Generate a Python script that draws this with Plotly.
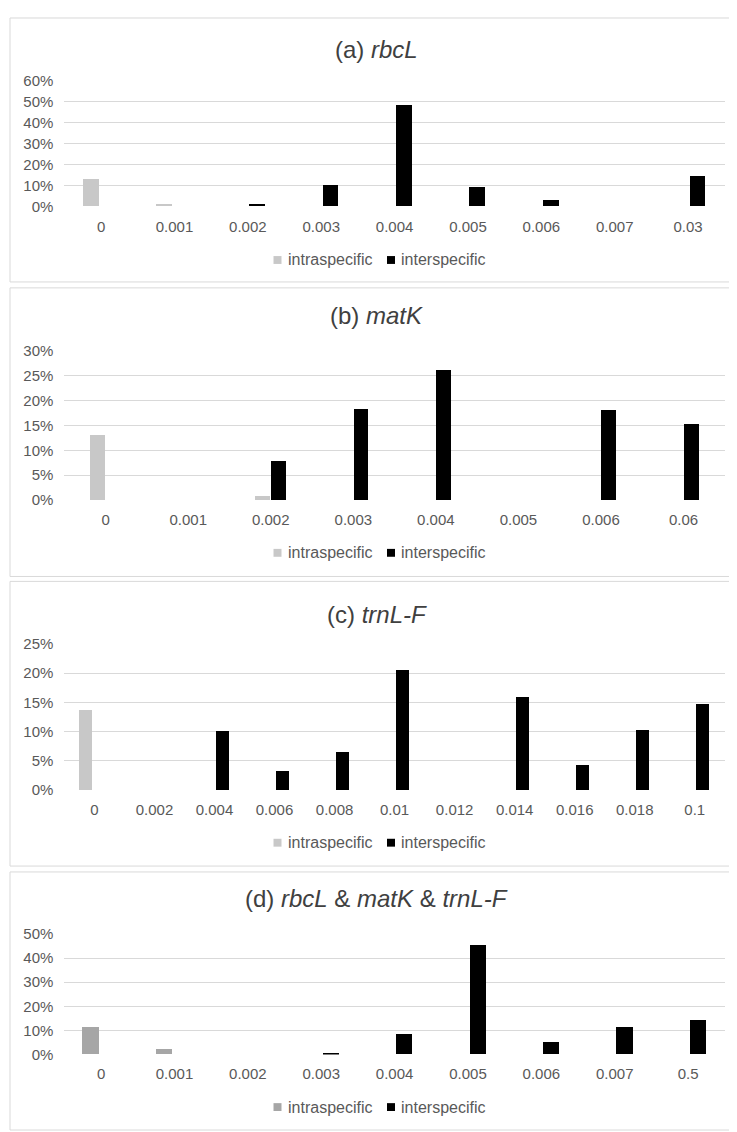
import plotly.graph_objects as go

W, H = 737, 1132

# ---------------- data ----------------
a_cats = ["0", "0.001", "0.002", "0.003", "0.004", "0.005", "0.006", "0.007", "0.03"]
a_intra = [0.128, 0.012, 0, 0, 0, 0, 0, 0, 0]
a_inter = [0, 0, 0.014, 0.103, 0.480, 0.093, 0.030, 0, 0.146]

b_cats = ["0", "0.001", "0.002", "0.003", "0.004", "0.005", "0.006", "0.06"]
b_intra = [0.131, 0, 0.0086, 0, 0, 0, 0, 0]
b_inter = [0, 0, 0.078, 0.184, 0.261, 0, 0.181, 0.154]

c_cats = ["0", "0.002", "0.004", "0.006", "0.008", "0.01", "0.012", "0.014", "0.016", "0.018", "0.1"]
c_intra = [0.138, 0, 0, 0, 0, 0, 0, 0, 0, 0, 0]
c_inter = [0, 0, 0.101, 0.033, 0.065, 0.206, 0, 0.159, 0.044, 0.104, 0.147]

d_cats = ["0", "0.001", "0.002", "0.003", "0.004", "0.005", "0.006", "0.007", "0.5"]
d_intra = [0.114, 0.023, 0, 0, 0, 0, 0, 0, 0]
d_inter = [0, 0, 0, 0.007, 0.083, 0.455, 0.053, 0.114, 0.144]

titles = ["(a) <i>rbcL</i>", "(b) <i>matK</i>", "(c) <i>trnL-F</i>",
          "(d) <i>rbcL</i> &amp; <i>matK</i> &amp; <i>trnL-F</i>"]
series_names = ["intraspecific", "interspecific"]

# ---------------- layout (pixels) ----------------
FONT = "Liberation Sans, Arial, sans-serif"
TXT = "#595959"
GRID = "#d9d9d9"
INTER_COLOR = "#000000"

panels = [
    dict(cats=a_cats, intra=a_intra, inter=a_inter, ymax=0.6, dtick=0.1,
         top=64.3, bot=192.7, title_y=33, leg_y=246.7, box=(1, 269),
         w=0.215, hg=0.025, intra_color="#c8c8c8"),
    dict(cats=b_cats, intra=b_intra, inter=b_inter, ymax=0.3, dtick=0.05,
         top=339, bot=490.3, title_y=303, leg_y=544, box=(275, 568),
         w=0.18, hg=0.008, intra_color="#c8c8c8"),
    dict(cats=c_cats, intra=c_intra, inter=c_inter, ymax=0.25, dtick=0.05,
         top=636.3, bot=785, title_y=606.7, leg_y=838.3, box=(573, 862),
         w=0.22, hg=0.03, intra_color="#c8c8c8"),
    dict(cats=d_cats, intra=d_intra, inter=d_inter, ymax=0.5, dtick=0.1,
         top=931, bot=1053.3, title_y=895, leg_y=1106.7, box=(868, 1130),
         w=0.22, hg=0.028, intra_color="#a6a6a6"),
]

X0, X1 = 56.4, 716.8
# legend key positions (px): square left edge, text left edge
LEG_ITEMS = [(265.5, 277.5), (379.0, 390.5)]
SQ = 8

fig = go.Figure()
shapes, annotations = [], []
layout_extra = {}

for i, p in enumerate(panels):
    n = i + 1
    xa = "x" if n == 1 else f"x{n}"
    ya = "y" if n == 1 else f"y{n}"

    fig.add_trace(go.Bar(x=p["cats"], y=p["intra"], name=series_names[0],
                         marker=dict(color=p["intra_color"], line=dict(width=0)),
                         width=p["w"], offset=-(p["w"] + p["hg"]),
                         xaxis=xa, yaxis=ya, showlegend=False))
    fig.add_trace(go.Bar(x=p["cats"], y=p["inter"], name=series_names[1],
                         marker=dict(color=INTER_COLOR, line=dict(width=0)),
                         width=p["w"], offset=p["hg"],
                         xaxis=xa, yaxis=ya, showlegend=False))

    xkey = "xaxis" if n == 1 else f"xaxis{n}"
    ykey = "yaxis" if n == 1 else f"yaxis{n}"
    layout_extra[xkey] = dict(
        type="category", domain=[X0 / W, X1 / W], anchor=ya,
        showgrid=False, showline=False, zeroline=False, ticks="",
        tickfont=dict(family=FONT, size=15, color=TXT),
        ticklabelstandoff=9, fixedrange=True,
        categoryorder="array", categoryarray=p["cats"],
    )
    layout_extra[ykey] = dict(
        domain=[1 - p["bot"] / H, 1 - p["top"] / H], anchor=xa,
        range=[0, p["ymax"]], dtick=p["dtick"], tick0=0, tickformat=".0%",
        showgrid=True, gridcolor=GRID, gridwidth=1, zeroline=False,
        showline=False, ticks="", ticklabelstandoff=10,
        tickfont=dict(family=FONT, size=15, color=TXT), fixedrange=True,
    )

    # panel frame
    shapes.append(dict(type="rect", xref="paper", yref="paper",
                       x0=2 / W, x1=735 / W,
                       y0=1 - p["box"][1] / H, y1=1 - p["box"][0] / H,
                       line=dict(color=GRID, width=1), fillcolor="rgba(0,0,0,0)",
                       layer="below"))
    # title
    annotations.append(dict(text=titles[i], xref="paper", yref="paper",
                            x=0.5, y=1 - p["title_y"] / H, xanchor="center",
                            yanchor="middle", showarrow=False,
                            font=dict(family=FONT, size=24, color="#404040")))
    # legend (key squares + labels)
    ly = p["leg_y"]
    for (sx, tx), nm, col in zip(LEG_ITEMS, series_names, [p["intra_color"], INTER_COLOR]):
        shapes.append(dict(type="rect", xref="paper", yref="paper",
                           x0=sx / W, x1=(sx + SQ) / W,
                           y0=1 - (ly + SQ / 2) / H, y1=1 - (ly - SQ / 2) / H,
                           line=dict(width=0), fillcolor=col))
        annotations.append(dict(text=nm, xref="paper", yref="paper",
                                x=tx / W, y=1 - ly / H, xanchor="left",
                                yanchor="middle", showarrow=False,
                                font=dict(family=FONT, size=16, color=TXT)))

fig.update_layout(
    width=W, height=H, autosize=False,
    margin=dict(l=0, r=0, t=0, b=0),
    paper_bgcolor="white", plot_bgcolor="white",
    barmode="overlay", bargap=0, showlegend=False,
    shapes=shapes, annotations=annotations,
    **layout_extra,
)

fig.write_html("out.html")
